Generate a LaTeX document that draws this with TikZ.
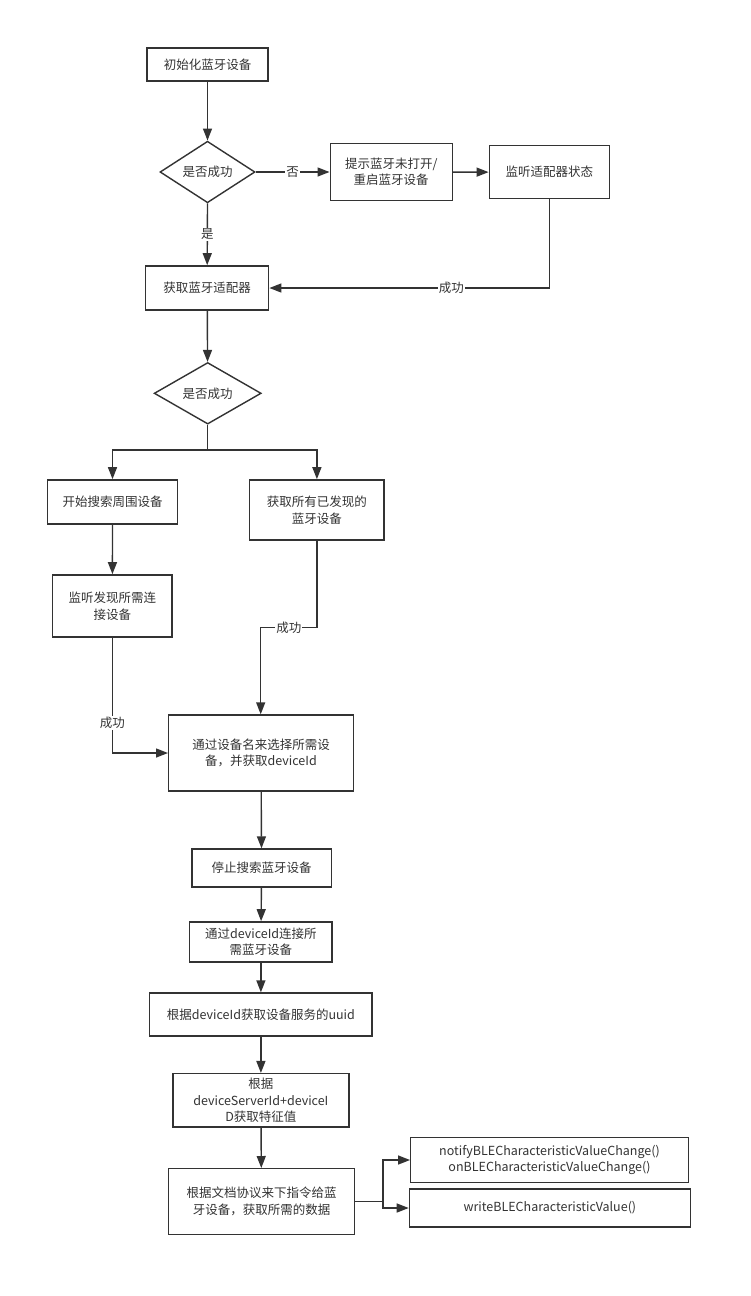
\documentclass[tikz,border=0pt]{standalone}
\usepackage{fontspec}
\setmainfont{Noto Sans CJK SC}
\usetikzlibrary{arrows.meta,shapes.geometric}
\definecolor{ln}{HTML}{333333}
\begin{document}
\begin{tikzpicture}[x=1pt,y=-1pt,
  box/.style={draw=ln,line width=1.4pt,rectangle,inner sep=1pt,align=center,text=ln,font=\fontsize{12.5}{16.5}\selectfont},
  dia/.style={draw=ln,line width=1.4pt,diamond,inner sep=0pt,text=ln,font=\fontsize{12.5}{16.5}\selectfont},
  arr/.style={draw=ln,line width=1.4pt,-{Triangle[length=12pt,width=9pt]}},
  lnk/.style={draw=ln,line width=1.4pt},
  lab/.style={fill=white,inner sep=1pt,text=ln,font=\fontsize{12.5}{15}\selectfont}]
\fill[white] (0,0) rectangle (751,1296);
\useasboundingbox (0,0) rectangle (751,1296);
% nodes
\node[box,minimum width=121pt,minimum height=33pt] (b1) at (207.5,64.5) {初始化蓝牙设备};
\node[dia,minimum width=95pt,minimum height=51pt] (d1) at (207.5,172) {是否成功};
\node[box,minimum width=122pt,minimum height=56.6pt] (b3) at (391.2,172) {提示蓝牙未打开/\\重启蓝牙设备};
\node[box,minimum width=120pt,minimum height=53pt] (b4) at (549.3,172.2) {监听适配器状态};
\node[box,minimum width=123pt,minimum height=44.3pt] (b5) at (207.2,288) {获取蓝牙适配器};
\node[dia,minimum width=107pt,minimum height=54.7pt] (d2) at (207.7,393.3) {是否成功};
\node[box,minimum width=129.6pt,minimum height=44.3pt] (b7) at (112.5,502) {开始搜索周围设备};
\node[box,minimum width=134.3pt,minimum height=60.3pt] (b8) at (316.9,510) {获取所有已发现的\\蓝牙设备};
\node[box,minimum width=119.3pt,minimum height=62.3pt] (b9) at (112.4,606) {监听发现所需连\\接设备};
\node[box,minimum width=184.6pt,minimum height=76pt] (b10) at (261,753) {通过设备名来选择所需设\\备，并获取deviceId};
\node[box,minimum width=139.6pt,minimum height=38pt] (b11) at (261.6,868) {停止搜索蓝牙设备};
\node[box,minimum width=142.5pt,minimum height=40.3pt] (b12) at (260.9,942) {通过deviceId连接所\\需蓝牙设备};
\node[box,minimum width=222.5pt,minimum height=43pt] (b13) at (260.9,1014.5) {根据deviceId获取设备服务的uuid};
\node[box,minimum width=176pt,minimum height=53.3pt] (b14) at (260.9,1100.3) {根据\\deviceServerId+deviceI\\D获取特征值};
\node[box,minimum width=185.7pt,minimum height=65.6pt] (b15) at (261.5,1201.5) {根据文档协议来下指令给蓝\\牙设备，获取所需的数据};
\node[box,minimum width=277.5pt,minimum height=44.6pt] (b16) at (549.5,1160) {notifyBLECharacteristicValueChange()\\onBLECharacteristicValueChange()};
\node[box,minimum width=281pt,minimum height=38pt] (b17) at (549.9,1208) {writeBLECharacteristicValue()};
% helper coordinates
\coordinate (r1) at (549.3,288);
\coordinate (s2) at (207.7,450);
\coordinate (s2l) at (112.5,450);
\coordinate (s2r) at (316.9,450);
\coordinate (c9) at (112.4,753);
\coordinate (c8a) at (316.9,627.3);
\coordinate (c8b) at (260.7,627.3);
\coordinate (br) at (383,1201.5);
\coordinate (bu) at (383,1160);
\coordinate (bd) at (383,1208);
% connectors
\draw[arr] (b1) -- (d1);
\draw[arr] (d1.east) -- node[lab,pos=0.5]{否} (b3.west);
\draw[arr] (b3) -- (b4);
\draw[arr] (b4.south) -- (r1) -- node[lab,pos=0.35]{成功} (b5.east);
\draw[arr] (d1.south) -- node[lab,pos=0.5]{是} (b5.north);
\draw[arr] (b5) -- (d2);
\draw[lnk] (d2.south) -- (s2);
\draw[arr] (s2) -- (s2l) -- (b7.north);
\draw[arr] (s2) -- (s2r) -- (b8.north);
\draw[arr] (b7) -- (b9);
\draw[arr] (b9.south) -- node[lab,pos=0.74]{成功} (c9) -- (b10.west);
\draw[arr] (b8.south) -- (c8a) -- node[lab,pos=0.5]{成功} (c8b) -- (b10.north -| c8b);
\draw[arr] (b10) -- (b11);
\draw[arr] (b11) -- (b12);
\draw[arr] (b12) -- (b13);
\draw[arr] (b13) -- (b14);
\draw[arr] (b14) -- (b15);
\draw[lnk] (b15.east) -- (br);
\draw[arr] (br) -- (bu) -- (b16.west);
\draw[arr] (br) -- (bd) -- (b17.west);
\end{tikzpicture}
\end{document}
